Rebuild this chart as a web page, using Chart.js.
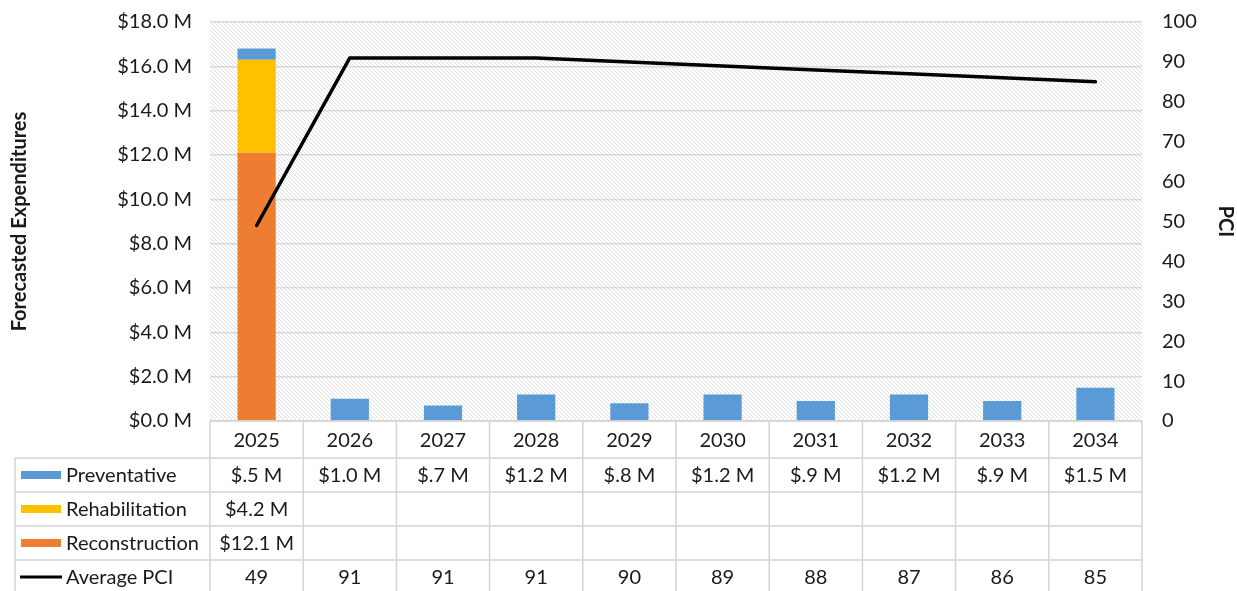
<!DOCTYPE html>
<html>
<head>
<meta charset="utf-8">
<script src="https://cdn.jsdelivr.net/npm/chart.js@4"></script>
<style>
  html, body { margin: 0; padding: 0; background: #ffffff; }
  #wrap { position: relative; width: 1237px; height: 591px; }
</style>
</head>
<body>
<div id="wrap"><canvas id="chart" width="1237" height="591"></canvas></div>
<script>
// Forecast years and per-year values (expenditures in $M, PCI index)
const years = ['2025', '2026', '2027', '2028', '2029', '2030', '2031', '2032', '2033', '2034'];
const preventative = [0.5, 1.0, 0.7, 1.2, 0.8, 1.2, 0.9, 1.2, 0.9, 1.5];
const rehabilitation = [4.2, null, null, null, null, null, null, null, null, null];
const reconstruction = [12.1, null, null, null, null, null, null, null, null, null];
const averagePci = [49, 91, 91, 91, 90, 89, 88, 87, 86, 85];

const COLORS = {
  preventative: '#5b9bd5',
  rehabilitation: '#ffc000',
  reconstruction: '#ed7d31',
  pci: '#000000',
  grid: '#d9d9d9',
  table: '#d4d4d4',
  text: '#1a1a1a'
};
const FONT = 'Lato, "Open Sans", sans-serif';
const FONT_SIZE = 20;

function money(v) {
  if (v === null || v === undefined) return '';
  if (v < 1) return '$.' + Math.round(v * 10) + ' M';
  return '$' + v.toFixed(1) + ' M';
}

// Diagonal hatch fill for the plot background
function hatchPattern(ctx) {
  const c = document.createElement('canvas');
  c.width = 4; c.height = 4;
  const p = c.getContext('2d');
  p.fillStyle = '#ffffff';
  p.fillRect(0, 0, 4, 4);
  p.strokeStyle = '#dedede';
  p.lineWidth = 1;
  p.beginPath();
  p.moveTo(-1, -1); p.lineTo(5, 5);
  p.moveTo(-1, 3); p.lineTo(1, 5);
  p.moveTo(3, -1); p.lineTo(5, 1);
  p.stroke();
  return ctx.createPattern(c, 'repeat');
}

const plotBackground = {
  id: 'plotBackground',
  beforeDraw(chart) {
    const { ctx, chartArea: a } = chart;
    ctx.save();
    ctx.fillStyle = hatchPattern(ctx);
    ctx.fillRect(a.left, a.top, a.right - a.left, a.bottom - a.top);
    ctx.restore();
  }
};

// Data table under the plot, columns aligned with the category axis
const dataTable = {
  id: 'dataTable',
  afterDraw(chart) {
    const { ctx, chartArea: a } = chart;
    const x = chart.scales.x;
    const colW = (a.right - a.left) / years.length;
    const tableLeft = 15;
    const rowH = [37, 34, 34, 34, 34];
    const rowTop = [a.bottom];
    for (let i = 1; i < rowH.length; i++) rowTop.push(rowTop[i - 1] + rowH[i - 1]);

    ctx.save();
    ctx.strokeStyle = COLORS.table;
    ctx.lineWidth = 1.5;
    ctx.beginPath();
    // header row top edge
    ctx.moveTo(a.left, a.bottom); ctx.lineTo(a.right, a.bottom);
    // body row edges
    for (let i = 1; i < rowTop.length; i++) {
      ctx.moveTo(tableLeft, rowTop[i]); ctx.lineTo(a.right, rowTop[i]);
    }
    // vertical separators
    for (let k = 0; k <= years.length; k++) {
      const vx = a.left + k * colW;
      ctx.moveTo(vx, a.bottom); ctx.lineTo(vx, chart.height);
    }
    ctx.moveTo(tableLeft, rowTop[1]); ctx.lineTo(tableLeft, chart.height);
    ctx.stroke();

    ctx.fillStyle = COLORS.text;
    ctx.font = FONT_SIZE + 'px ' + FONT;
    ctx.textAlign = 'center';
    ctx.textBaseline = 'middle';
    const rows = [
      years,
      preventative.map(money),
      rehabilitation.map(money),
      reconstruction.map(money),
      averagePci.map(v => String(v))
    ];
    rows.forEach((vals, r) => {
      const cy = rowTop[r] + rowH[r] / 2 + 1;
      vals.forEach((t, i) => {
        ctx.fillText(t, x.getPixelForValue(i), cy);
      });
    });

    // legend keys and series names
    const names = ['Preventative', 'Rehabilitation', 'Reconstruction', 'Average PCI'];
    const keys = [COLORS.preventative, COLORS.rehabilitation, COLORS.reconstruction, null];
    ctx.textAlign = 'left';
    names.forEach((n, i) => {
      const r = i + 1;
      const cy = rowTop[r] + rowH[r] / 2;
      if (keys[i]) {
        ctx.fillStyle = keys[i];
        ctx.fillRect(21, cy - 4, 40, 8);
      } else {
        ctx.strokeStyle = COLORS.pci;
        ctx.lineWidth = 3;
        ctx.beginPath();
        ctx.moveTo(20, cy); ctx.lineTo(62, cy);
        ctx.stroke();
      }
      ctx.fillStyle = COLORS.text;
      ctx.fillText(n, 66, cy + 1);
    });
    ctx.restore();
  }
};

const barCommon = { barPercentage: 0.41, categoryPercentage: 1, yAxisID: 'y', stack: 'spend', order: 1, borderWidth: 0 };

// vertical axes: fixed widths and no extra label padding above the plot
function fitVertical(width) {
  return s => { s.width = width; s.paddingTop = 0; s.paddingBottom = 0; };
}

new Chart(document.getElementById('chart'), {
  type: 'bar',
  data: {
    labels: years,
    datasets: [
      { ...barCommon, label: 'Reconstruction', data: reconstruction, backgroundColor: COLORS.reconstruction },
      { ...barCommon, label: 'Rehabilitation', data: rehabilitation, backgroundColor: COLORS.rehabilitation },
      { ...barCommon, label: 'Preventative', data: preventative, backgroundColor: COLORS.preventative },
      {
        type: 'line', label: 'Average PCI', data: averagePci, yAxisID: 'y1', order: 0,
        borderColor: COLORS.pci, borderWidth: 3.5, pointRadius: 0, tension: 0,
        borderCapStyle: 'round', borderJoinStyle: 'round'
      }
    ]
  },
  options: {
    responsive: false,
    animation: false,
    events: [],
    layout: { padding: { top: 22, bottom: 170, left: 0, right: 0 } },
    plugins: { legend: { display: false }, tooltip: { enabled: false } },
    scales: {
      x: { display: false, stacked: true, offset: true },
      y: {
        position: 'left', stacked: true, min: 0, max: 18,
        afterFit: fitVertical(210),
        ticks: {
          stepSize: 2, padding: 18, color: COLORS.text,
          font: { family: FONT, size: FONT_SIZE },
          callback: v => '$' + Number(v).toFixed(1) + ' M'
        },
        grid: { color: COLORS.grid, lineWidth: 1.5, drawTicks: false },
        border: { display: false },
        title: {
          display: true, text: 'Forecasted Expenditures', color: COLORS.text,
          font: { family: FONT, size: 20, weight: 'bold' }, padding: { top: 8, bottom: 0 }
        }
      },
      y1: {
        position: 'right', min: 0, max: 100,
        afterFit: fitVertical(95),
        ticks: { stepSize: 10, padding: 20, color: COLORS.text, font: { family: FONT, size: FONT_SIZE } },
        grid: { display: false, drawTicks: false },
        border: { display: false },
        title: {
          display: true, text: 'PCI', color: COLORS.text,
          font: { family: FONT, size: 20, weight: 'bold' }, padding: { top: 0, bottom: 6 }
        }
      }
    }
  },
  plugins: [plotBackground, dataTable]
});
</script>
</body>
</html>
